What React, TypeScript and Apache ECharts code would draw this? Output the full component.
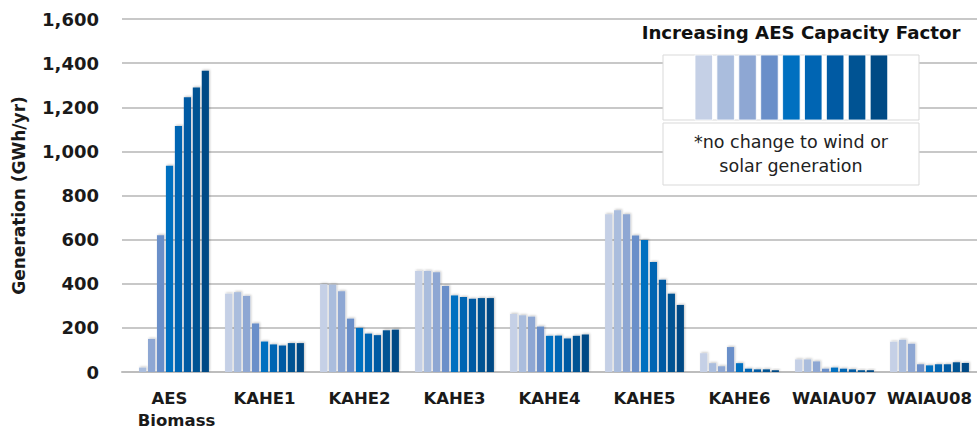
import React, { useEffect, useRef } from "react";
import * as echarts from "echarts";

// Annual generation (GWh/yr) by unit, one value per AES capacity-factor step
const units = ["AES\nBiomass", "KAHE1", "KAHE2", "KAHE3", "KAHE4", "KAHE5", "KAHE6", "WAIAU07", "WAIAU08"];

const aesBiomass = [0, 20, 150, 620, 935, 1115, 1245, 1290, 1365];
const kahe1 = [355, 362, 345, 220, 138, 125, 120, 131, 131];
const kahe2 = [398, 396, 366, 242, 200, 174, 167, 189, 192];
const kahe3 = [458, 458, 452, 390, 347, 340, 332, 335, 335];
const kahe4 = [263, 257, 251, 206, 164, 165, 152, 164, 170];
const kahe5 = [715, 733, 715, 619, 598, 499, 418, 355, 304];
const kahe6 = [85, 40, 26, 113, 40, 15, 12, 12, 8];
const waiau07 = [57, 57, 48, 15, 20, 15, 12, 8, 8];
const waiau08 = [137, 146, 128, 35, 30, 35, 35, 44, 41];

const unitValues = [aesBiomass, kahe1, kahe2, kahe3, kahe4, kahe5, kahe6, waiau07, waiau08];

const stepNames = ["CF step 1", "CF step 2", "CF step 3", "CF step 4", "CF step 5", "CF step 6", "CF step 7", "CF step 8", "CF step 9"];

const yTicks = [0, 200, 400, 600, 800, 1000, 1200, 1400, 1600];

const stepColors = ["#C5D0E6", "#AABDDD", "#8EA7D3", "#6A8FC9", "#0070C0", "#0065B3", "#005AA3", "#005393", "#004A85"];

const FONT = "DejaVu Sans";

const labelText = {
  fontFamily: FONT,
  fontWeight: "bold" as const,
  fontSize: 16.5,
  lineHeight: 22,
  color: "#1a1a1a",
};

export default function App() {
  const ref = useRef<HTMLDivElement>(null);

  useEffect(() => {
    if (!ref.current) return;
    const chart = echarts.init(ref.current, null, { renderer: "svg" });

    const series = stepNames.map((name, s) => ({
      name,
      type: "bar" as const,
      data: unitValues.map((u) => u[s]),
      barCategoryGap: "17%",
      barGap: "25%",
      itemStyle: {
        color: stepColors[s],
        shadowColor: "rgba(0,0,0,0.22)",
        shadowBlur: 2,
        shadowOffsetX: 1,
        shadowOffsetY: -1,
      },
    }));

    // Key: swatches in a box, plus a note box beneath
    const swatches = stepColors.map((c, i) => ({
      type: "rect",
      shape: { x: 695 + i * 21.9, y: 55, width: 17.5, height: 65 },
      style: { fill: c, stroke: "rgba(255,255,255,0.8)", lineWidth: 1 },
      z: 12,
    }));

    chart.setOption({
      animation: false,
      backgroundColor: "#ffffff",
      grid: { left: 122, top: 19, width: 859, height: 354 },
      xAxis: {
        type: "category",
        data: units,
        axisLine: { show: true, lineStyle: { color: "#bdbdbd", width: 2 } },
        axisTick: { show: false },
        axisLabel: {
          interval: 0,
          hideOverlap: false,
          margin: 15,
          ...labelText,
          // two-line label: second line starts under the first
          formatter: (v: string) => {
            const parts = v.split("\n");
            if (parts.length < 2) return v;
            return `{a|${parts[0]}}\n{b|${parts[1]}}`;
          },
          rich: {
            a: { ...labelText },
            b: { ...labelText, padding: [0, 0, 0, 14] },
          },
        },
      },
      yAxis: {
        type: "value",
        min: yTicks[0],
        max: yTicks[yTicks.length - 1],
        interval: 200,
        name: "Generation (GWh/yr)",
        nameLocation: "middle",
        nameGap: 95,
        nameRotate: 90,
        nameTextStyle: { fontFamily: FONT, fontWeight: "bold", fontSize: 17, color: "#1a1a1a" },
        axisLine: { show: false },
        axisTick: { show: false },
        axisLabel: {
          margin: 23,
          fontFamily: FONT,
          fontWeight: "bold",
          fontSize: 18,
          color: "#1a1a1a",
          formatter: (v: number) => v.toLocaleString("en-US"),
        },
        splitLine: { show: true, lineStyle: { color: "#c8c8c8", width: 2 } },
      },
      series,
      graphic: [
        {
          type: "text",
          x: 801,
          y: 32,
          z: 12,
          style: {
            text: "Increasing AES Capacity Factor",
            fontFamily: FONT,
            fontWeight: "bold",
            fontSize: 18.2,
            fill: "#111111",
            align: "center",
            verticalAlign: "middle",
          },
        },
        {
          type: "rect",
          shape: { x: 663, y: 55, width: 256, height: 65 },
          style: { fill: "#ffffff", stroke: "#d9d9d9", lineWidth: 1 },
          z: 11,
        },
        ...swatches,
        {
          type: "rect",
          shape: { x: 663, y: 123, width: 256, height: 62 },
          style: { fill: "#ffffff", stroke: "#d9d9d9", lineWidth: 1 },
          z: 11,
        },
        {
          type: "text",
          x: 791,
          y: 154,
          z: 12,
          style: {
            text: "*no change to wind or\nsolar generation",
            fontFamily: FONT,
            fontSize: 17.5,
            lineHeight: 24,
            fill: "#222222",
            align: "center",
            verticalAlign: "middle",
          },
        },
      ],
    });

    return () => chart.dispose();
  }, []);

  return (
    <div
      ref={ref}
      style={{ position: "fixed", left: 0, top: 0, width: 977, height: 431, background: "#fff" }}
    />
  );
}
